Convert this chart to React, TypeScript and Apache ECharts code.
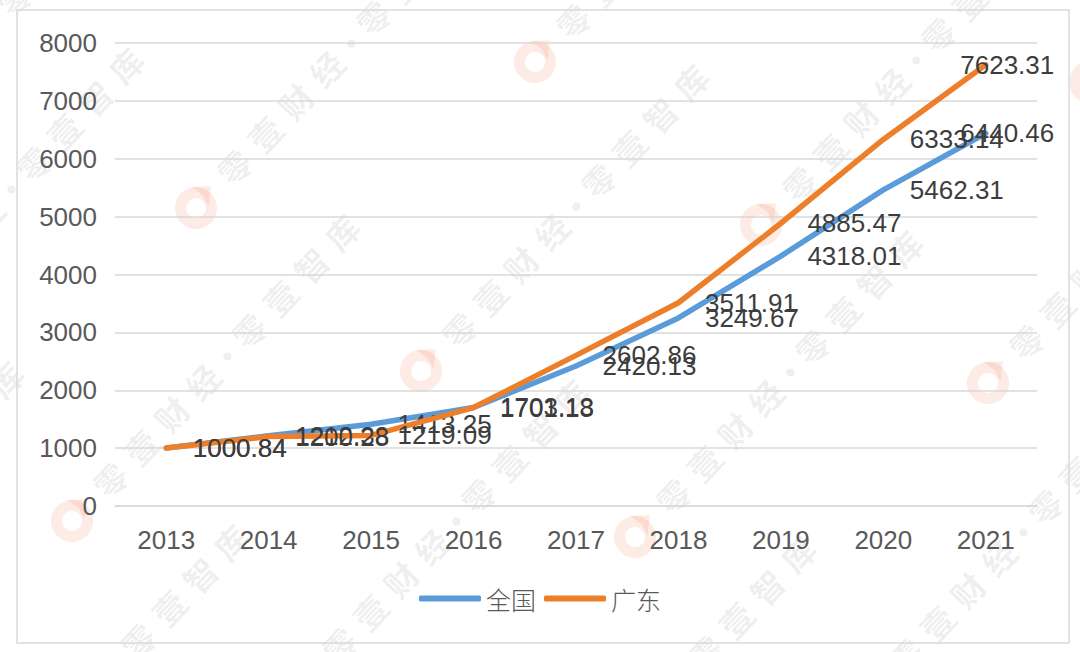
import React, { useEffect, useRef } from "react";
import * as echarts from "echarts";

const years = ["2013", "2014", "2015", "2016", "2017", "2018", "2019", "2020", "2021"];
const nationalValues = [1000.84, 1212.38, 1413.25, 1703.13, 2420.13, 3249.67, 4318.01, 5462.31, 6440.46];
const guangdongValues = [1000.84, 1200.28, 1219.09, 1701.18, 2602.86, 3511.91, 4885.47, 6333.14, 7623.31];
const seriesNames = ["全国", "广东"];
const yMin = 0;
const yMax = 8000;
const yInterval = 1000;

const watermarkText = ["零", "壹", "财", "经", "·", "零", "壹", "智", "库"];
const watermarkAnchors: [number, number][] = [
  [-24, 39], [-144, 354], [-264, 668], [196, 208], [72, 521], [535, 62],
  [-39, 831], [421, 371], [301, 686], [761, 225], [635, 537], [1090, 82],
  [528, 843], [988, 383], [868, 697],
];

function buildWatermark() {
  const groups: any[] = [];
  watermarkAnchors.forEach(([lx, ly]) => {
    const children: any[] = [
      {
        type: "ring",
        shape: { cx: 0, cy: 0, r: 21, r0: 10 },
        style: { fill: "rgba(242,110,70,0.14)" },
      },
      {
        type: "polygon",
        shape: { points: [[12, -18], [26, -4], [10, 8], [14, -4]] },
        style: { fill: "rgba(242,110,70,0.14)" },
      },
    ];
    let pos = 56;
    watermarkText.forEach((ch) => {
      const isDot = ch === "·";
      if (isDot) pos -= 10;
      children.push({
        type: "text",
        x: pos,
        y: 0,
        style: {
          text: ch,
          fontSize: 33,
          fontFamily: "Noto Sans CJK SC",
          fontWeight: "bold",
          fill: "rgba(0,0,0,0.07)",
          align: "center",
          verticalAlign: "middle",
        },
      });
      pos += isDot ? 34 : 45;
    });
    groups.push({
      type: "group",
      x: lx,
      y: ly,
      rotation: 0.82,
      silent: true,
      children,
    });
  });
  return groups;
}

function makeData(values: number[]) {
  return values.map((v, i) =>
    i === values.length - 1 ? { value: v, label: { offset: [-52, 0] } } : v
  );
}

export default function App() {
  const ref = useRef<HTMLDivElement>(null);

  useEffect(() => {
    if (!ref.current) return;
    const chart = echarts.init(ref.current, null, { renderer: "svg" });
    const labelStyle = {
      show: true,
      position: "right" as const,
      distance: 26,
      fontSize: 26,
      color: "#3d3d3d",
      fontFamily: "Liberation Sans",
    };
    chart.setOption({
      animation: false,
      backgroundColor: "#ffffff",
      textStyle: { fontFamily: "Liberation Sans" },
      graphic: [
        ...buildWatermark(),
        {
          type: "rect",
          silent: true,
          shape: { x: 17, y: 10, width: 1052, height: 633 },
          style: { fill: "none", stroke: "#d9d9d9", lineWidth: 1.5 },
        },
      ],
      grid: { left: 115, right: 43, top: 43, bottom: 146 },
      legend: {
        bottom: 36,
        left: "center",
        data: seriesNames,
        icon: "roundRect",
        itemWidth: 62,
        itemHeight: 6,
        itemGap: 8,
        textStyle: { fontSize: 25, color: "#595959", fontFamily: "Noto Sans CJK SC", fontWeight: 300 },
      },
      xAxis: {
        type: "category",
        data: years,
        boundaryGap: true,
        axisLine: { show: true, lineStyle: { color: "#d9d9d9", width: 1.5 } },
        axisTick: { show: false },
        axisLabel: { fontSize: 26, color: "#595959", margin: 21, fontFamily: "Liberation Sans" },
      },
      yAxis: {
        type: "value",
        min: yMin,
        max: yMax,
        interval: yInterval,
        axisLine: { show: false },
        axisTick: { show: false },
        splitLine: { lineStyle: { color: "#d9d9d9", width: 1.5 } },
        axisLabel: {
          fontSize: 26,
          color: "#595959",
          margin: 18,
          fontFamily: "Liberation Sans",
          formatter: (v: number) => String(v),
        },
      },
      series: [
        {
          name: seriesNames[0],
          type: "line",
          data: makeData(nationalValues),
          symbol: "circle",
          symbolSize: 1,
          itemStyle: { color: "#5a9bda" },
          lineStyle: { color: "#5a9bda", width: 5.5, cap: "round", join: "round" },
          label: labelStyle,
          z: 3,
        },
        {
          name: seriesNames[1],
          type: "line",
          data: makeData(guangdongValues),
          symbol: "circle",
          symbolSize: 1,
          itemStyle: { color: "#ee7f2a" },
          lineStyle: { color: "#ee7f2a", width: 5.5, cap: "round", join: "round" },
          label: labelStyle,
          z: 4,
        },
      ],
    });
    return () => chart.dispose();
  }, []);

  return (
    <div
      ref={ref}
      style={{ position: "absolute", left: 0, top: 0, width: 1080, height: 652 }}
    />
  );
}
